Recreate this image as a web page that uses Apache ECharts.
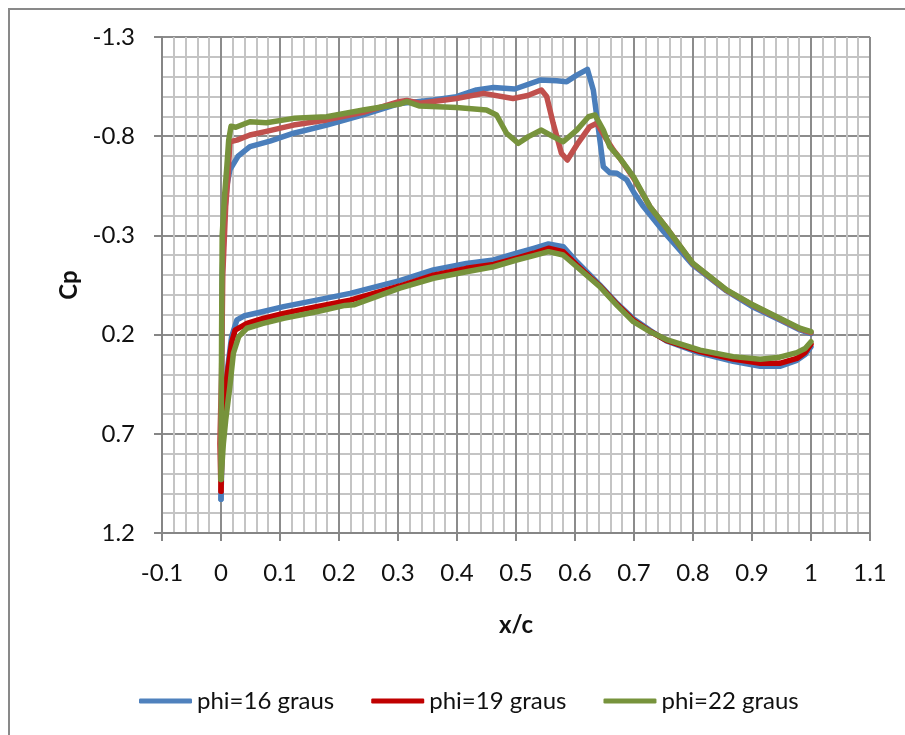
<!DOCTYPE html>
<html>
<head>
<meta charset="utf-8">
<script src="https://cdn.jsdelivr.net/npm/echarts@6/dist/echarts.min.js"></script>
<style>
html,body{margin:0;padding:0;background:#fff;}
#chart{width:905px;height:735px;}
</style>
</head>
<body>
<div id="chart"></div>
<script>
// ---- data (x/c, Cp) ----
const seriesNames = ['phi=16 graus', 'phi=19 graus', 'phi=22 graus'];
const xTicks = [-0.1, 0, 0.1, 0.2, 0.3, 0.4, 0.5, 0.6, 0.7, 0.8, 0.9, 1, 1.1];
const yTicks = [-1.3, -0.8, -0.3, 0.2, 0.7, 1.2];

// phi=16 : upper surface (trailing edge -> leading edge)
const xU16 = [1.0, 0.98, 0.95, 0.9, 0.857, 0.8, 0.75, 0.716, 0.7, 0.688, 0.671, 0.659, 0.648, 0.64, 0.631, 0.621, 0.603, 0.586, 0.569, 0.541, 0.498, 0.462, 0.433, 0.399, 0.36, 0.303, 0.241, 0.179, 0.123, 0.083, 0.049, 0.029, 0.015, 0.01, 0.006, 0.002, 0.001, 0.0];
const cpU16 = [0.195, 0.175, 0.13, 0.058, -0.02, -0.15, -0.32, -0.445, -0.515, -0.579, -0.613, -0.616, -0.646, -0.831, -1.033, -1.137, -1.108, -1.075, -1.08, -1.083, -1.038, -1.046, -1.033, -0.999, -0.982, -0.965, -0.907, -0.856, -0.815, -0.775, -0.747, -0.7, -0.63, -0.55, -0.4, -0.1, 0.5, 1.03];
// phi=16 : lower surface (leading edge -> trailing edge)
const xL16 = [0.0, 0.002, 0.006, 0.012, 0.018, 0.027, 0.04, 0.07, 0.106, 0.162, 0.219, 0.303, 0.36, 0.416, 0.462, 0.501, 0.53, 0.555, 0.58, 0.603, 0.642, 0.672, 0.699, 0.727, 0.755, 0.812, 0.868, 0.914, 0.947, 0.976, 0.99, 1.0];
const cpL16 = [1.03, 0.75, 0.5, 0.35, 0.21, 0.126, 0.105, 0.085, 0.059, 0.026, -0.008, -0.072, -0.126, -0.159, -0.176, -0.21, -0.235, -0.257, -0.243, -0.167, -0.05, 0.045, 0.12, 0.178, 0.232, 0.293, 0.335, 0.36, 0.36, 0.33, 0.3, 0.262];

// phi=19
const xU19 = [1.0, 0.98, 0.947, 0.902, 0.857, 0.8, 0.758, 0.727, 0.699, 0.676, 0.665, 0.654, 0.637, 0.625, 0.603, 0.587, 0.577, 0.563, 0.552, 0.543, 0.52, 0.495, 0.445, 0.399, 0.337, 0.315, 0.303, 0.241, 0.179, 0.123, 0.075, 0.049, 0.027, 0.015, 0.012, 0.008, 0.003, 0.001, -0.002, 0.0];
const cpU19 = [0.19, 0.17, 0.12, 0.053, -0.023, -0.157, -0.327, -0.445, -0.59, -0.689, -0.73, -0.781, -0.865, -0.848, -0.756, -0.68, -0.714, -0.865, -1.0, -1.033, -1.005, -0.99, -1.016, -0.99, -0.966, -0.98, -0.975, -0.92, -0.882, -0.856, -0.823, -0.806, -0.78, -0.772, -0.6, -0.45, -0.1, 0.4, 0.75, 0.99];
const xL19 = [0.0, 0.002, 0.006, 0.013, 0.018, 0.024, 0.044, 0.07, 0.106, 0.162, 0.219, 0.303, 0.36, 0.416, 0.462, 0.501, 0.53, 0.555, 0.58, 0.603, 0.642, 0.672, 0.699, 0.727, 0.755, 0.812, 0.868, 0.914, 0.947, 0.976, 0.99, 1.0];
const cpL19 = [0.99, 0.72, 0.5, 0.35, 0.24, 0.177, 0.143, 0.12, 0.093, 0.059, 0.026, -0.045, -0.1, -0.134, -0.154, -0.185, -0.21, -0.235, -0.218, -0.151, -0.045, 0.05, 0.128, 0.183, 0.229, 0.286, 0.323, 0.345, 0.345, 0.32, 0.29, 0.248];

// phi=22
const xU22 = [1.0, 0.981, 0.947, 0.902, 0.857, 0.8, 0.758, 0.727, 0.699, 0.676, 0.659, 0.648, 0.634, 0.623, 0.603, 0.58, 0.563, 0.543, 0.521, 0.504, 0.484, 0.467, 0.45, 0.399, 0.337, 0.315, 0.303, 0.241, 0.179, 0.123, 0.077, 0.049, 0.025, 0.017, 0.013, 0.01, 0.006, 0.002, 0.001, 0.0];
const cpU22 = [0.185, 0.168, 0.118, 0.051, -0.025, -0.159, -0.327, -0.445, -0.596, -0.689, -0.747, -0.831, -0.907, -0.898, -0.831, -0.772, -0.798, -0.831, -0.798, -0.764, -0.815, -0.907, -0.932, -0.945, -0.952, -0.974, -0.962, -0.932, -0.898, -0.89, -0.868, -0.873, -0.845, -0.85, -0.78, -0.65, -0.5, -0.3, 0.2, 0.93];
const xL22 = [0.0, 0.004, 0.008, 0.015, 0.021, 0.03, 0.044, 0.07, 0.106, 0.162, 0.21, 0.225, 0.303, 0.36, 0.416, 0.462, 0.501, 0.53, 0.555, 0.58, 0.603, 0.642, 0.672, 0.699, 0.727, 0.755, 0.812, 0.868, 0.914, 0.947, 0.976, 0.99, 1.0];
const cpL22 = [0.93, 0.75, 0.63, 0.462, 0.294, 0.21, 0.168, 0.145, 0.118, 0.085, 0.053, 0.05, -0.034, -0.084, -0.117, -0.142, -0.176, -0.198, -0.218, -0.201, -0.142, -0.042, 0.055, 0.135, 0.185, 0.225, 0.278, 0.311, 0.324, 0.314, 0.291, 0.27, 0.236];

// ---- chart ----
const FONT = 'Lato';
const pairs = (xs, ys) => xs.map((x, i) => [x, ys[i]]);
const fmt = v => String(Number(v.toFixed(1)));

const curves = [
  {name: seriesNames[0], data: pairs(xU16, cpU16), color: '#4A7EBB'},
  {name: seriesNames[0], data: pairs(xL16, cpL16), color: '#4A7EBB'},
  {name: seriesNames[1], data: pairs(xU19, cpU19), color: '#C0504D'},
  {name: seriesNames[1], data: pairs(xL19, cpL19), color: '#C00000'},
  {name: seriesNames[2], data: pairs(xU22, cpU22), color: '#77933C'},
  {name: seriesNames[2], data: pairs(xL22, cpL22), color: '#77933C'}
];
const legendColors = ['#4F81BD', '#C00000', '#77933C'];

const chart = echarts.init(document.getElementById('chart'), null, {renderer: 'canvas'});
chart.setOption({
  animation: false,
  backgroundColor: '#fff',
  textStyle: {fontFamily: FONT},
  graphic: [{
    type: 'rect', silent: true,
    shape: {x: 9, y: 9, width: 1200, height: 1200},
    style: {fill: 'none', stroke: '#898989', lineWidth: 2}
  }],
  grid: {left: 162, right: 35, top: 37, bottom: 202, containLabel: false, outerBoundsMode: 'none'},
  legend: {
    data: seriesNames.map((n, i) => ({name: n, itemStyle: {color: legendColors[i]}, lineStyle: {color: legendColors[i]}})),
    left: 134, top: 684,
    icon: 'roundRect', itemWidth: 53, itemHeight: 5, itemGap: 37,
    textStyle: {fontFamily: FONT, fontSize: 24, color: '#111'}
  },
  xAxis: {
    type: 'value', min: xTicks[0], max: xTicks[xTicks.length - 1], interval: 0.1,
    name: 'x/c', nameLocation: 'middle', nameGap: 80,
    nameTextStyle: {fontFamily: FONT, fontSize: 24, fontWeight: 'bold', color: '#111'},
    axisLine: {show: true, onZero: false, lineStyle: {color: '#868686', width: 2}},
    axisTick: {show: true, inside: false, length: 8, lineStyle: {color: '#868686', width: 2}},
    axisLabel: {margin: 28, fontFamily: FONT, fontSize: 24, color: '#111', formatter: fmt},
    splitLine: {show: true, lineStyle: {color: '#8C8C8C', width: 2}},
    minorTick: {show: false, splitNumber: 5},
    minorSplitLine: {show: true, lineStyle: {color: '#C4C4C4', width: 2}}
  },
  yAxis: {
    type: 'value', inverse: true, min: yTicks[0], max: yTicks[yTicks.length - 1], interval: 0.5,
    name: 'Cp', nameLocation: 'middle', nameGap: 62, nameRotate: 90,
    nameTextStyle: {fontFamily: FONT, fontSize: 24, fontWeight: 'bold', color: '#111'},
    axisLine: {show: true, onZero: false, lineStyle: {color: '#868686', width: 2}},
    axisTick: {show: true, inside: false, length: 8, lineStyle: {color: '#868686', width: 2}},
    axisLabel: {margin: 27, fontFamily: FONT, fontSize: 24, color: '#111', formatter: fmt},
    splitLine: {show: true, lineStyle: {color: '#8C8C8C', width: 2}},
    minorTick: {show: false, splitNumber: 5},
    minorSplitLine: {show: true, lineStyle: {color: '#C4C4C4', width: 2}}
  },
  series: curves.map(c => ({
    type: 'line', name: c.name, data: c.data,
    showSymbol: false, symbol: 'none', smooth: false,
    lineStyle: {color: c.color, width: 5.5, cap: 'round', join: 'round'},
    itemStyle: {color: c.color},
    emphasis: {disabled: true}
  }))
});
</script>
</body>
</html>
